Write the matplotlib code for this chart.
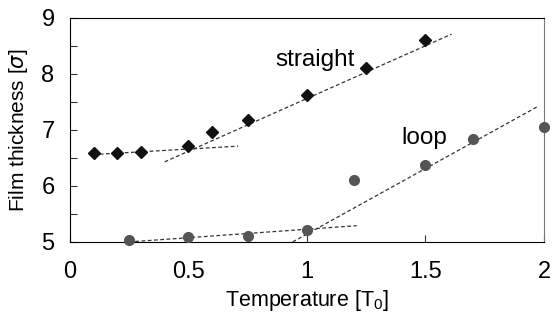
import matplotlib
matplotlib.use("Agg")
import matplotlib.pyplot as plt
import numpy as np

# straight chains
straight_T = [0.1, 0.2, 0.3, 0.5, 0.6, 0.75, 1.0, 1.25, 1.5]
straight_h = [6.58, 6.58, 6.60, 6.72, 6.96, 7.17, 7.63, 8.11, 8.61]
# loops
loop_T = [0.25, 0.5, 0.75, 1.0, 1.2, 1.5, 1.7, 2.0]
loop_h = [5.03, 5.09, 5.11, 5.22, 6.10, 6.38, 6.83, 7.06]

# dashed fit lines (endpoints)
fit_straight_low = ([0.1, 0.71], [6.56, 6.71])
fit_straight_high = ([0.40, 1.61], [6.43, 8.71])
fit_loop_low = ([0.25, 1.21], [5.00, 5.29])
fit_loop_high = ([0.94, 1.97], [5.00, 7.41])

plt.rcParams["font.family"] = ["Liberation Sans", "DejaVu Sans"]
plt.rcParams["mathtext.default"] = "regular"

fig = plt.figure(figsize=(5.54, 3.2), dpi=100)
ax = fig.add_axes([0.126, 0.244, 0.856, 0.7])

for xs, ys in [fit_straight_low, fit_straight_high, fit_loop_low, fit_loop_high]:
    ax.plot(xs, ys, ls=(0, (3, 2)), color="#333333", lw=0.9, zorder=2)

ax.plot(straight_T, straight_h, ls="none", marker="D", ms=6.5,
        color="#111111", zorder=3, clip_on=False)
ax.plot(loop_T, loop_h, ls="none", marker="o", ms=7,
        color="#555555", zorder=3, clip_on=False)

ax.text(0.865, 8.25, "straight", fontsize=17.5, va="center", ha="left")
ax.text(1.40, 6.86, "loop", fontsize=17.5, va="center", ha="left")

ax.set_xlim(0, 2)
ax.set_ylim(5, 9)
ax.set_xticks([0, 0.5, 1, 1.5, 2])
ax.set_xticklabels(["0", "0.5", "1", "1.5", "2"])
ax.set_yticks(np.arange(5, 9.01, 0.5))
ax.set_yticklabels(["5", "", "6", "", "7", "", "8", "", "9"])
ax.tick_params(direction="in", length=5, labelsize=17, color="#333333")
ax.tick_params(axis="x", pad=14)
ax.tick_params(axis="y", pad=11)
ax.spines["right"].set_color("#777777")
ax.set_xlabel("Temperature [T$_0$]", fontsize=15.5, labelpad=3)
ax.set_ylabel(r"Film thickness [$\it{\sigma}$]", fontsize=15, labelpad=8)

fig.savefig("out.png", dpi=100)
